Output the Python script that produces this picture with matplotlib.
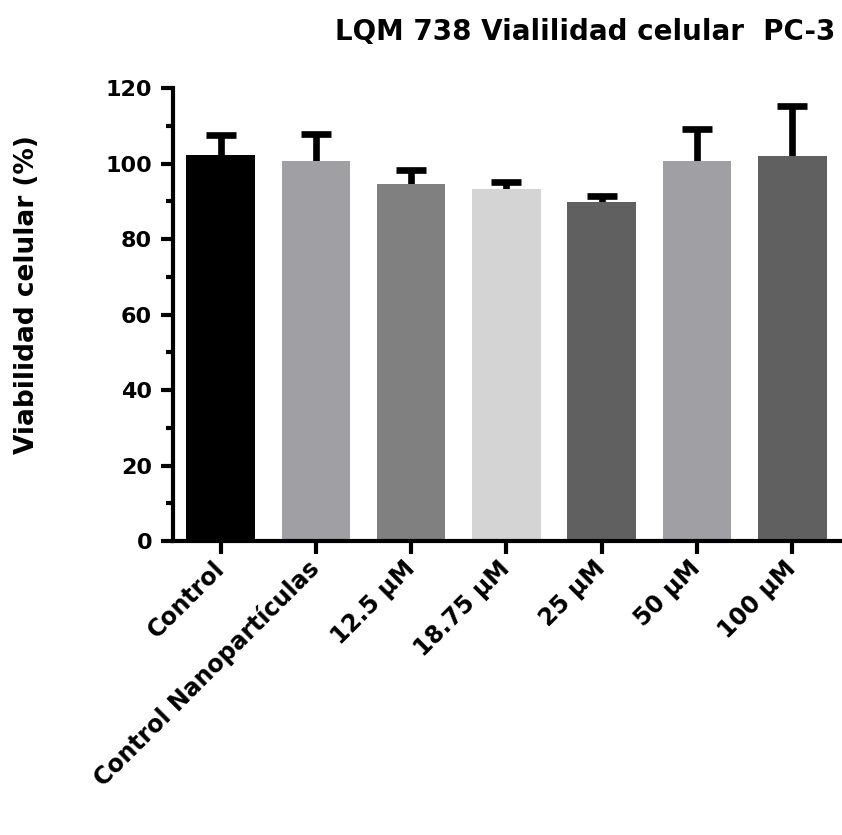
import numpy as np
import matplotlib.pyplot as plt
from matplotlib.ticker import MultipleLocator

categories = ["Control", "Control Nanopartículas", "12.5 µM", "18.75 µM",
              "25 µM", "50 µM", "100 µM"]
viability = [102.2, 100.7, 94.7, 93.2, 89.7, 100.8, 102.0]
sem = [5.3, 7.2, 3.6, 2.0, 1.8, 8.3, 13.3]
colors = ["#000000", "#a0a0a4", "#808080", "#d4d4d4", "#606060", "#a0a0a4", "#606060"]

plt.rcParams["font.family"] = ["DejaVu Sans"]
plt.rcParams["font.weight"] = "bold"

fig = plt.figure(figsize=(8.42, 8.35), dpi=100)
ax = fig.add_axes([0.2055, 0.352, 0.792, 0.5426])

x = np.arange(len(categories))
ax.bar(x, viability, width=0.72, color=colors, zorder=2)
_, caps, _ = ax.errorbar(x, viability, yerr=[np.zeros(len(sem)), sem], fmt="none",
                         ecolor="black", elinewidth=4.8, capsize=11, capthick=4.8,
                         zorder=1)
caps[0].remove()  # only the upper cap is shown

ax.set_xlim(-0.5, 6.5)
ax.set_ylim(0, 120)
ax.yaxis.set_major_locator(MultipleLocator(20))
ax.yaxis.set_minor_locator(MultipleLocator(10))

for s in ["top", "right"]:
    ax.spines[s].set_visible(False)
for s in ["left", "bottom"]:
    ax.spines[s].set_linewidth(3)

ax.tick_params(axis="both", which="major", direction="out", length=9, width=3,
               labelsize=16)
ax.tick_params(axis="y", which="minor", direction="out", length=5, width=3)
ax.tick_params(axis="y", pad=6)
ax.tick_params(axis="x", pad=8)

ax.set_xticks(x)
ax.set_xticklabels(categories, rotation=45, ha="right", va="center",
                   rotation_mode="anchor", fontweight="bold", fontsize=17)
for lbl in ax.get_yticklabels():
    lbl.set_fontweight("bold")

fig.text(27 / 842, 1 - 295 / 835, "Viabilidad celular (%)", rotation=90,
         ha="center", va="center", fontsize=19, fontweight="bold")
fig.text(0.992, 0.962, "LQM 738 Vialilidad celular  PC-3", ha="right", va="center",
         fontsize=20, fontweight="bold")

fig.savefig("out.png", dpi=100)
